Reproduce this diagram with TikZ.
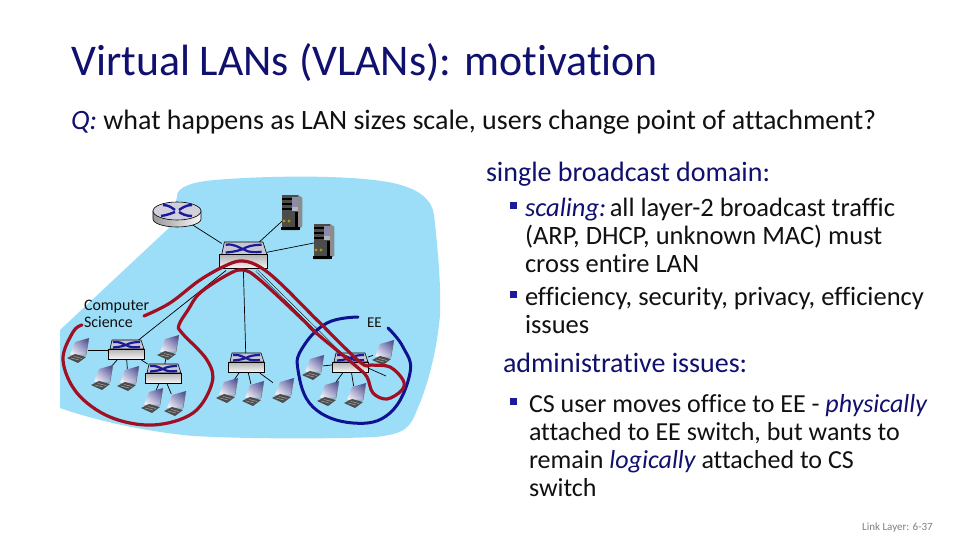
\documentclass[tikz,border=0pt]{standalone}
\usepackage{fontspec}
\setmainfont[Ligatures=NoCommon]{Carlito}
\usetikzlibrary{shadings,shapes.geometric}
\definecolor{blobc}{HTML}{9CDEF8}
\definecolor{redc}{HTML}{A00F22}
\definecolor{bluec}{HTML}{0E1290}
\definecolor{xblue}{HTML}{1A1A9A}
\definecolor{navy}{HTML}{10106E}
\definecolor{txt}{HTML}{111111}
\definecolor{lapdark}{HTML}{3E3E86}
\definecolor{lapmid}{HTML}{A8A8D0}
\definecolor{facec}{HTML}{C6C6D6}
\tikzset{x=1pt,y=-1pt,
 anchorbox/.style={inner sep=0pt,outer sep=0pt,rectangle},
 swnode/.style={anchorbox,minimum width=36pt,minimum height=20pt},
 lapnode/.style={anchorbox,minimum width=20pt,minimum height=18pt},
 srvnode/.style={anchorbox,minimum width=20pt,minimum height=34pt},
 link/.style={draw=black,line width=0.7pt},
 tline/.style={anchor=base west,inner sep=0pt,outer sep=0pt,font=\fontsize{26.5}{26.5}\selectfont,text=txt},
 uline/.style={tline,font=\fontsize{26}{26}\selectfont},
 hline/.style={anchor=base west,inner sep=0pt,outer sep=0pt,font=\fontsize{28}{28}\selectfont,text=navy},
 lbl/.style={anchor=base west,inner sep=0pt,outer sep=0pt,font=\fontsize{16}{16}\selectfont,text=txt},
 sbullet/.style={fill=xblue,minimum size=7pt,inner sep=0pt,outer sep=0pt,rectangle},
 pics/switchart/.style={code={
  \draw[line width=0.6pt,fill=facec] (-16,-1) -- (-14,-10) -- (15,-10) -- (18,-1) -- cycle;
  \draw[line width=0.6pt,top color=black!30,bottom color=black!4] (-18,-1) rectangle (18,9);
  \draw[xblue,line width=2.2pt] (-13,-8) .. controls (-7,-9) and (-3,-6) .. (1,-4.5) .. controls (4,-2.5) and (9,-2.5) .. (14,-3);
  \draw[xblue,line width=2.2pt] (-13,-2.5) .. controls (-6,-3) and (-3,-4) .. (0,-5) .. controls (3,-7) and (8,-8) .. (14,-8);
 }},
 pics/routerart/.style={code={
  \draw[line width=0.6pt,left color=black!40,right color=black!3] (-24,-4) -- (-24,4) arc[start angle=180,end angle=360,x radius=24,y radius=-8] -- (24,-4) -- cycle;
  \draw[line width=0.6pt,fill=facec!80!white] (0,-4) ellipse[x radius=24,y radius=9];
  \draw[xblue,line width=2.4pt] (-14,-10) .. controls (-8,-10) and (-5,-7) .. (-2,-5);
  \draw[xblue,line width=2.4pt] (2,-3) .. controls (5,-1) and (9,1) .. (15,1);
  \draw[xblue,line width=2.4pt] (-16,1) .. controls (-9,0) and (-5,-2) .. (-2,-3);
  \draw[xblue,line width=2.4pt] (2,-5) .. controls (5,-7) and (9,-10) .. (15,-10);
 }},
 pics/srvart/.style={code={
  \fill[black!70] (-10,-17) -- (6,-17) -- (10,-14) -- (10,14) -- (6,18) -- (-10,18) -- cycle;
  \fill[black!45] (6,-17) -- (10,-14) -- (10,14) -- (6,18) -- cycle;
  \fill[black] (-11,15) rectangle (8,18);
  \fill[black] (-10,-14) rectangle (6,-12);
  \fill[black] (-10,-9) rectangle (6,-7);
  \fill[black] (-10,-4) rectangle (6,-2);
  \fill[black] (3,0) rectangle (6,15);
  \fill[blue!25!black!45] (0,-15) rectangle (6,-5);
  \fill[blue!20!black!30] (0,-5) rectangle (6,-1);
  \fill[olive!80!yellow] (-8,9) circle[radius=1.6];
  \fill[olive!80!yellow] (-3,9) circle[radius=1.6];
 }},
 pics/lapart/.style={code={
  \shade[upper right=lapdark,lower left=white,upper left=lapmid,lower right=lapmid] (-3,-8) -- (11,-12) -- (8,5) -- (-8,5) -- cycle;
  \draw[black!55,line width=0.5pt] (11,-12) -- (8,5) -- (-8,5);
  \fill[black!70] (-11,8) -- (-3,4) -- (8,7) -- (0,13) -- cycle;
  \draw[black!35,line width=0.6pt] (-7,8) -- (1,10) (-4,6.5) -- (4,8.5);
 }},
}
\begin{document}
\begin{tikzpicture}
\useasboundingbox (0,0) rectangle (960,540);
\fill[white] (0,0) rectangle (960,540);
% campus blob
\fill[blobc] (177,197) .. controls (176,188) and (190,182) .. (215,180)
 .. controls (260,176) and (350,174) .. (393,183)
 .. controls (420,189) and (432,200) .. (434,215)
 .. controls (438,250) and (441,285) .. (440,315)
 .. controls (437,350) and (428,385) .. (417,410)
 .. controls (410,428) and (405,434) .. (375,437)
 .. controls (330,439) and (250,439) .. (193,436)
 .. controls (150,432) and (100,422) .. (60,408)
 -- (60,330) -- (170,227) -- cycle;
% device anchors
\node[swnode,minimum width=48pt,minimum height=27pt] (top) at (243,257) {};
\node[anchorbox,ellipse,minimum width=48pt,minimum height=25pt] (rtr) at (177,215) {};
\node[srvnode] (srva) at (292,212) {};
\node[srvnode] (srvb) at (324,241) {};
\node[swnode] (swa) at (126,350) {};
\node[swnode] (swb) at (163,374) {};
\node[swnode] (swc) at (246,363) {};
\node[swnode] (swd) at (350,363) {};
\coordinate (stub) at (386,376);
\foreach \n/\x/\y in {la/78/350,lb/102/377,lc/128/378,ld/168/347,le/152/400,lf/175/403,lg/227/390,lh/253/393,li/283/390,lj/313/367,lk/328/393,ll/355/395,lm/383/352}
  \node[lapnode] (\n) at (\x,\y) {};
% links
\draw[link] (rtr) -- (top);
\draw[link] (top) -- (srva);
\draw[link] (top) -- (srvb);
\draw[link] (top) -- (swa);
\draw[link] (top) -- (swc);
\draw[link,double=blobc,double distance=1.6pt,line width=0.5pt] (top) -- (swd);
\draw[link] (swa) -- (swb);
\draw[link] (swa) -- (la);
\draw[link] (swa) -- (lb);
\draw[link] (swa) -- (lc);
\draw[link] (swb) -- (ld);
\draw[link] (swb) -- (le);
\draw[link] (swb) -- (lf);
\draw[link] (swc) -- (lg);
\draw[link] (swc) -- (lh);
\draw[link] (swc) -- (li);
\draw[link] (swd) -- (lj);
\draw[link] (swd) -- (lk);
\draw[link] (swd) -- (ll);
\draw[link] (swd) -- (lm);
\draw[link] (swd.east) ++(0,5) -- (stub);
% device art
\pic at (177,215) {routerart};
\pic[xscale=1.33,yscale=1.4] at (243,256) {switchart};
\foreach \n in {swa,swb,swc,swd} \pic at (\n) {switchart};
\foreach \n in {srva,srvb} \pic at (\n) {srvart};
\foreach \n in {la,lb,lc,ld,le,lf,lg,lh,li,lj,lk,ll,lm} \pic at (\n) {lapart};
% blue EE circle
\draw[bluec,line width=3pt,line cap=round] plot[smooth,tension=0.7] coordinates {(358,317) (327,323) (303,347) (298,370) (313,407) (353,423) (390,413) (410,373) (403,347) (388,328)};
% red CS loop
\draw[redc,line width=3.2pt,line cap=round] plot[smooth,tension=0.6] coordinates {(144,316) (170,303) (200,280) (227,265) (243,261) (260,267) (280,283) (317,320) (360,362) (372,365) (390,367) (403,380) (402,390) (387,399) (373,393) (367,377) (357,367) (315,332) (303,320) (260,280) (243,270) (227,275) (200,293) (188,310) (179,325) (182,333) (207,360) (212,383) (193,413) (153,425) (110,417) (77,393) (63,360) (73,332) (82,325)};
% labels
\node[lbl] (cs1) at (84,310) {Computer};
\node[lbl] (cs2) at (84,327) {Science};
\node[lbl,font=\fontsize{15}{15}\selectfont] (ee) at (367,327) {EE};
% text
\node[anchor=base west,inner sep=0pt,font=\fontsize{43.8}{44}\selectfont,text=navy] (title) at (71,76) {Virtual LANs (VLANs): motivation};
\node[hline,text=txt] (q) at (71,130) {\textcolor{navy}{\itshape Q:} what happens as LAN sizes scale, users change point of attachment?};
\node[hline] (h1) at (486,182) {single broadcast domain:};
\node[sbullet] (b1) at (513,205) {};
\node[tline] (t1) at (525,216) {\textcolor{navy}{\itshape scaling:}\kern-2.5pt\ all layer-2 broadcast traffic};
\node[tline] (t2) at (525,244) {(ARP, DHCP, unknown MAC) must};
\node[tline] (t3) at (525,272) {cross entire LAN};
\node[sbullet] (b2) at (513,294) {};
\node[tline] (t4) at (525,305) {efficiency, security, privacy, efficiency};
\node[tline] (t5) at (525,333) {issues};
\node[hline] (h2) at (503,372) {administrative issues:};
\node[sbullet] (b3) at (513,401) {};
\node[uline] (t6) at (529,412) {CS user moves office to EE - \textcolor{navy}{\itshape physically}};
\node[uline] (t7) at (529,440) {attached to EE switch, but wants to};
\node[uline] (t8) at (529,468) {remain \textcolor{navy}{\itshape logically} attached to CS};
\node[uline] (t9) at (529,496) {switch};
\node[anchor=base east,inner sep=0pt,font=\fontsize{11}{11}\selectfont,text=black!50] (pg) at (933,530) {Link Layer: 6-37};
\end{tikzpicture}
\end{document}
